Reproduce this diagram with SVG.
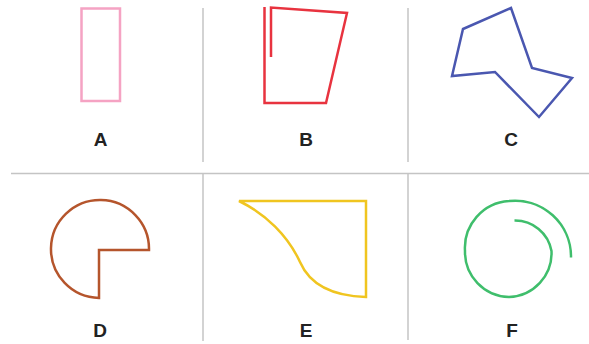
<svg xmlns="http://www.w3.org/2000/svg" width="589" height="344" viewBox="0 0 589 344">
<style>
.grid{stroke:#c4c4c4;stroke-width:1.5;fill:none}
.shape{fill:none;stroke-width:2.5;stroke-linejoin:miter}
.lbl{font-family:"Liberation Sans",Arial,sans-serif;font-weight:bold;font-size:19px;fill:#222;text-anchor:middle}
</style>
<rect width="589" height="344" fill="#fff"/>
<g id="connectors">
<line class="grid" x1="203" y1="8" x2="203" y2="162"/>
<line class="grid" x1="408" y1="8" x2="408" y2="162"/>
<line class="grid" x1="11" y1="173.5" x2="589" y2="173.5"/>
<line class="grid" x1="203" y1="173.5" x2="203" y2="341"/>
<line class="grid" x1="408" y1="173.5" x2="408" y2="340"/>
</g>
<g id="A">
<rect class="shape" x="81.5" y="8.5" width="38.5" height="92.5" stroke="#f5a3c3"/>
<text class="lbl" x="100.5" y="146">A</text>
</g>
<g id="B">
<path class="shape" d="M271,57 L271,7.5 L347,13 L326,103 L264.5,103 L264.5,7" stroke="#e8333f"/>
<text class="lbl" x="306" y="146">B</text>
</g>
<g id="C">
<path class="shape" d="M511,8 L463,29 L452,76 L495,72 L539,117 L572,78 L532,68 Z" stroke="#4a57b0"/>
<text class="lbl" x="511" y="146">C</text>
</g>
<g id="D">
<path class="shape" d="M99,250 L149,250 A49,49 0 1 0 99,298 Z" stroke="#b5552c"/>
<text class="lbl" x="100" y="337">D</text>
</g>
<g id="E">
<path class="shape" d="M239,201 L366,201 L366,297 C332,296 310,285 300,262 C288,236 266,214 239,201 Z" stroke="#f0c520"/>
<text class="lbl" x="306" y="337">E</text>
</g>
<g id="F">
<path class="shape" d="M514.5,220.5 A37,37 0 0 1 551.5,251 A44,44 0 0 1 509,297 A45,45 0 0 1 465,251 A47,47 0 0 1 509,201 A56,56 0 0 1 571,257.5" stroke="#3fbe6c"/>
<text class="lbl" x="512" y="337">F</text>
</g>
</svg>
